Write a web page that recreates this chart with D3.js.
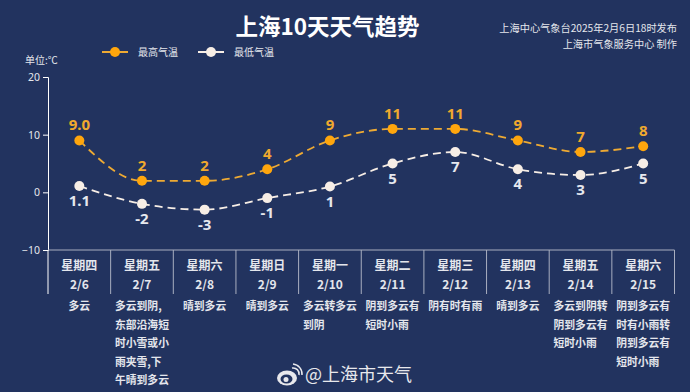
<!DOCTYPE html>
<html>
<head>
<meta charset="utf-8">
<script src="https://cdn.jsdelivr.net/npm/d3@7"></script>
<style>
    html, body { margin: 0; padding: 0; background: #22335f; }
    svg { display: block; font-family: "Noto Sans CJK SC", "Noto Sans", sans-serif; }
</style>
</head>
<body>
<svg id="chart"></svg>
<script>
const dates = ['2/6', '2/7', '2/8', '2/9', '2/10', '2/11', '2/12', '2/13', '2/14', '2/15'];
const weekdays = ['星期四', '星期五', '星期六', '星期日', '星期一', '星期二', '星期三', '星期四', '星期五', '星期六'];
const highs = [9, 2, 2, 4, 9, 11, 11, 9, 7, 8];
const lows = [1.1, -2, -3, -1, 1, 5, 7, 4, 3, 5];
const highLabels = ['9.0', '2', '2', '4', '9', '11', '11', '9', '7', '8'];
const lowLabels = ['1.1', '-2', '-3', '-1', '1', '5', '7', '4', '3', '5'];
const yTicks = [-10, 0, 10, 20];
const weather = [
    ['多云'],
    ['多云到阴,', '东部沿海短', '时小雪或小', '雨夹雪,下', '午晴到多云'],
    ['晴到多云'],
    ['晴到多云'],
    ['多云转多云', '到阴'],
    ['阴到多云有', '短时小雨'],
    ['阴有时有雨'],
    ['晴到多云'],
    ['多云到阴转', '阴到多云有', '短时小雨'],
    ['阴到多云有', '时有小雨转', '阴到多云有', '短时小雨']
];

const width = 690, height = 392;
const margin = { top: 77, right: 15.5, bottom: 142, left: 48 };
const highColor = '#ffa60d', highLine = '#eeaa33', lowColor = '#f7eee6', textColor = '#e4e6ec';

const svg = d3.select('#chart').attr('width', width).attr('height', height);

const x = d3.scaleBand().domain(dates).range([margin.left, width - margin.right]);
const y = d3.scaleLinear().domain([-10, 20]).range([height - margin.bottom, margin.top]);
const cx = d => x(d) + x.bandwidth() / 2;

// Title and source notes
svg.append('text').attr('x', 327.5).attr('y', 35).attr('text-anchor', 'middle')
    .attr('font-size', 22.5).attr('font-weight', 700).attr('fill', '#fff').text('上海10天天气趋势');
svg.append('text').attr('x', 677).attr('y', 32).attr('text-anchor', 'end')
    .attr('font-size', 10.2).attr('fill', textColor).text('上海中心气象台2025年2月6日18时发布');
svg.append('text').attr('x', 677).attr('y', 48).attr('text-anchor', 'end')
    .attr('font-size', 10.2).attr('fill', textColor).text('上海市气象服务中心 制作');
svg.append('text').attr('x', 25).attr('y', 64)
    .attr('font-size', 10).attr('fill', textColor).text('单位:℃');

// Legend
[['最高气温', highColor, highLine, 115], ['最低气温', lowColor, lowColor, 211]].forEach(([name, fill, line, lx]) => {
    svg.append('line').attr('x1', lx - 13).attr('x2', lx + 13).attr('y1', 52).attr('y2', 52)
        .attr('stroke', line).attr('stroke-width', 2);
    svg.append('circle').attr('cx', lx).attr('cy', 52).attr('r', 5).attr('fill', fill);
    svg.append('text').attr('x', lx + 23).attr('y', 56)
        .attr('font-size', 10).attr('fill', textColor).text(name);
});

// Y axis
const yAxis = svg.append('g').attr('transform', `translate(${margin.left},0)`)
    .call(d3.axisLeft(y).tickValues(yTicks).tickSize(5).tickPadding(3));
yAxis.select('.domain').attr('stroke', '#fff');
yAxis.selectAll('line').attr('stroke', '#fff');
yAxis.selectAll('text').attr('fill', textColor).attr('font-size', 10.5)
    .attr('font-family', '"Noto Sans", sans-serif');

// Table header under the plot
const tableBottom = 294;
svg.append('line').attr('x1', margin.left).attr('x2', width - margin.right)
    .attr('y1', y(-10)).attr('y2', y(-10)).attr('stroke', '#a9afc0').attr('stroke-width', 1);
svg.selectAll('.sep').data(dates).enter().append('line').attr('class', 'sep')
    .attr('x1', d => x(d) + x.bandwidth()).attr('x2', d => x(d) + x.bandwidth())
    .attr('y1', y(-10)).attr('y2', tableBottom).attr('stroke', '#a9afc0').attr('stroke-width', 1);
svg.append('line').attr('x1', margin.left).attr('x2', margin.left)
    .attr('y1', y(-10)).attr('y2', tableBottom).attr('stroke', '#fff').attr('stroke-width', 1);

svg.selectAll('.weekday').data(dates).enter().append('text').attr('class', 'weekday')
    .attr('x', cx).attr('y', 270).attr('text-anchor', 'middle')
    .attr('font-size', 12).attr('font-weight', 700).attr('fill', textColor)
    .text((d, i) => weekdays[i]);
svg.selectAll('.date').data(dates).enter().append('text').attr('class', 'date')
    .attr('x', cx).attr('y', 289).attr('text-anchor', 'middle')
    .attr('font-size', 12).attr('font-weight', 700).attr('fill', textColor)
    .text(d => d);

// Weather description, block centred in its column, lines left aligned
dates.forEach((d, i) => {
    const g = svg.append('g');
    const lines = g.selectAll('text').data(weather[i]).enter().append('text')
        .attr('y', (s, j) => 310 + j * 18.5)
        .attr('font-size', 10.8).attr('font-weight', 700).attr('fill', textColor)
        .text(s => s);
    const w = d3.max(lines.nodes(), n => n.getComputedTextLength());
    lines.attr('x', cx(d) - w / 2);
});

// Lines and points
const line = d3.line().x((v, i) => cx(dates[i])).y(v => y(v)).curve(d3.curveMonotoneX);

function drawSeries(values, labels, fill, stroke, labelFill, labelDy) {
    svg.append('path').datum(values).attr('d', line).attr('fill', 'none')
        .attr('stroke', stroke).attr('stroke-width', 1.8).attr('stroke-dasharray', '8 5');
    const g = svg.append('g');
    g.selectAll('circle').data(values).enter().append('circle')
        .attr('cx', (v, i) => cx(dates[i])).attr('cy', v => y(v)).attr('r', 5).attr('fill', fill);
    g.selectAll('text').data(values).enter().append('text')
        .attr('x', (v, i) => cx(dates[i])).attr('y', v => y(v) + labelDy)
        .attr('text-anchor', 'middle').attr('font-size', 15).attr('font-weight', 700)
        .attr('font-family', '"Noto Sans", sans-serif').attr('fill', labelFill)
        .text((v, i) => labels[i]);
}
drawSeries(highs, highLabels, highColor, highLine, '#f0a92e', -10);
drawSeries(lows, lowLabels, lowColor, lowColor, '#e6e8ee', 20);

// Weibo watermark
const mark = svg.append('g').attr('transform', 'translate(277,364)').attr('fill', 'none').attr('stroke', '#e8e8ec');
mark.append('ellipse').attr('cx', 10).attr('cy', 14).attr('rx', 10).attr('ry', 7.5)
    .attr('fill', '#e8e8ec').attr('stroke', 'none');
mark.append('ellipse').attr('cx', 9.5).attr('cy', 15).attr('rx', 6).attr('ry', 4.5)
    .attr('fill', '#22335f').attr('stroke', 'none');
mark.append('circle').attr('cx', 9).attr('cy', 15.5).attr('r', 2.5)
    .attr('fill', '#e8e8ec').attr('stroke', 'none');
mark.append('path').attr('d', 'M15 4a6 6 0 0 1 7 7').attr('stroke-width', 1.5);
mark.append('path').attr('d', 'M16 0a10 10 0 0 1 9 11').attr('stroke-width', 1.5);
svg.append('text').attr('x', 305).attr('y', 381).attr('font-size', 18)
    .attr('fill', '#e8e8ec').text('@上海市天气');
</script>
</body>
</html>
